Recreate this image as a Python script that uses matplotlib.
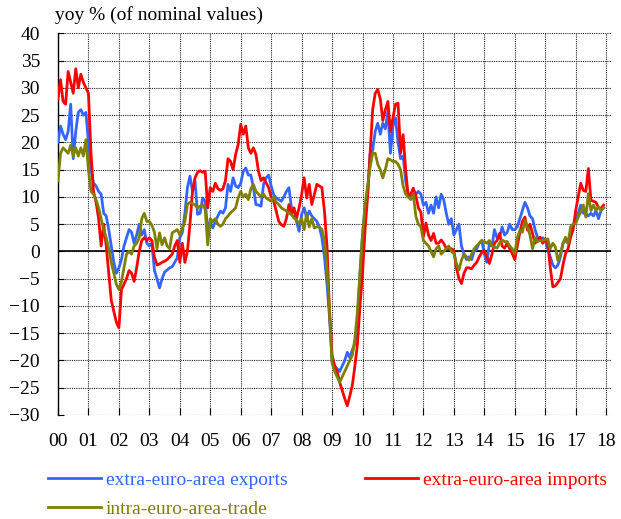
import numpy as np
import matplotlib
matplotlib.use("Agg")
import matplotlib.pyplot as plt

plt.rcParams['font.family'] = ['Liberation Serif', 'DejaVu Serif']

# monthly yoy % values, Jan 2000 - Dec 2017 (one row per year)
exports = [
    20, 23, 21.5, 20.5, 22, 27, 17, 22, 25.5, 26, 25, 25.5,
    20, 15, 12.5, 12, 11, 10.5, 7, 6.5, 4, 1, -2, -4,
    -3, -1.5, 1, 2.5, 4, 3.5, 1.5, 3, 5, 3, 4, 1.5,
    1, 1.5, -3.5, -5, -6.7, -5, -3.8, -3.4, -3, -2.8, -2, -1.2,
    2.5, 3.5, 7, 11.7, 13.8, 11, 12.9, 6.8, 7, 9.8, 9.2, 4,
    5.5, 4.3, 5.5, 6.5, 7.4, 7, 8, 12.3, 11, 13.5, 12, 11.7,
    12.5, 14.7, 15.3, 14, 14, 11.7, 8.6, 8.5, 8.3, 12.3, 13.5, 14,
    12, 10.4, 9.8, 9.5, 9.2, 10, 11, 11.7, 8, 7.4, 5.5, 3.7,
    6.8, 8, 6.1, 7.4, 6.5, 6, 5.5, 4.5, 2.5, -1, -6, -12,
    -20, -21, -21.5, -22, -21, -20, -18.5, -19.5, -18, -17, -13, -4,
    3, 8, 10.5, 18, 18.5, 22, 23.5, 21.5, 23.5, 22.5, 25.7, 18,
    23, 24.5, 20, 17, 17.5, 13, 10.5, 10, 10, 10.5, 11, 10.5,
    8.5, 9, 7, 8.5, 7, 10, 8, 10.5, 9.5, 7, 5, 6,
    3, 4, 5, 1, -0.5, -1.5, -1, -1.5, 0, 0.5, 1.5, 2,
    -0.5, -2, 1.5, 1, 4, 2.5, 2.5, 4.5, 3, 3.5, 5, 4,
    4, 4.5, 6, 7.5, 9, 8, 6.5, 6, 4, 2.5, 2, 2.5,
    2, 0.5, -1, -2.5, -3, -2.5, -1, 1.5, 2, 1.5, 3, 5,
    5.5, 7, 8.5, 7, 7, 6.5, 7, 6.5, 7.5, 6, 7.5, 8,
]

imports = [
    28, 31.5, 27.5, 27, 33, 31, 29, 33.5, 30, 32.5, 31, 30,
    29, 18, 11, 9, 6, 1, 5, 1, -4, -9, -11, -13,
    -14, -7, -6, -5, -3.5, -4, -5.5, -3, 0, 2, 2.5, 2,
    2.5, 2, -1, -2.5, -2.3, -2, -1.8, -1.5, -1, -0.5, 1, 2,
    -2, 1.5, -2, 0, 5, 11, 13.5, 14.5, 14.8, 14.5, 14.7, 8,
    11.7, 11, 12.5, 11.5, 11.2, 11.5, 13, 17, 16.5, 15, 17.8, 19.6,
    23.3, 21.5, 23, 19, 18, 19, 17.8, 14.7, 13, 13.5, 12.6, 11.7,
    10, 9.2, 7.4, 5.5, 4.9, 4.6, 6, 8.6, 6.8, 8, 6.1, 8,
    10.4, 13.5, 9.8, 12.3, 8.6, 10.4, 12.3, 12, 11.7, 7.4, 1, -11,
    -19, -21, -22, -24, -25.5, -27, -28.3, -26.5, -24.5, -21, -17, -10,
    -4, 4, 10, 18, 26, 29, 29.7, 28, 24, 26, 27.5, 22,
    24.5, 27, 27.2, 18, 21.4, 15, 10, 10.5, 11.6, 10.3, 8, 7.2,
    2.7, 5.2, 3, 2, 3.3, 1.5, 1.5, 2.1, 1.5, 0.5, 0.5, 0.5,
    0.2, -3, -5, -5.9, -4, -3, -3, -3.2, -2.5, -2, -1, -0.2,
    0.2, -1, -2.2, -0.5, 1.5, 2, 3.3, 1, 0.6, 1.5, 0.5, -0.4,
    -1.5, 1, 3.5, 5.5, 6.3, 3.9, 5, 3.3, 1.5, 2.2, 2.6, 1.5,
    2.3, 1.5, -3, -6.5, -6.3, -5.7, -5, -2.5, -0.4, 0.5, 2.6, 4,
    7.5, 10, 12.5, 11.2, 11, 15.2, 9.4, 9.2, 9, 8, 7.9, 8.5,
]

intra = [
    13, 18, 19, 18.5, 18, 19.5, 17.5, 19, 17.5, 19, 17.5, 20.5,
    15, 11, 10.5, 9.5, 8, 6, 4, 2.5, 0.5, -2, -4, -6,
    -7, -5.5, -3, -0.5, 0, -0.5, 1, 1.5, 2.5, 6, 7, 5.5,
    5.5, 4.8, 3.5, 0.5, 3.4, 1.2, 2.5, 1, 0.5, 3.4, 3.7, 4,
    3, 4.3, 5.5, 8.6, 9, 8.8, 8.5, 8, 8.3, 8.6, 7.7, 1.2,
    6, 5.5, 6, 5, 4.6, 5, 6, 6.5, 7.1, 7.5, 8, 9.8,
    11, 10, 10.5, 9.5, 11.5, 12.3, 11, 10.5, 10, 10.5, 9.8, 9.5,
    9.2, 10, 9, 8.6, 8, 7.7, 7.4, 7, 6.8, 6.1, 5.8, 5,
    6, 4, 7, 4.5, 6, 4.3, 4.5, 4.5, 4, 2, -3, -11,
    -20.5, -22, -23, -24, -23, -22, -21, -20, -19, -16, -11, -4,
    3, 8.5, 12, 15.5, 18, 18, 16, 15, 13.5, 15, 17, 16.8,
    16.5, 16.5, 16, 15, 12, 10.5, 10, 9.5, 10.5, 6.5, 5, 4.5,
    2, 1.5, 1, 0, -1, 0.5, 1, -0.5, 0, 0.5, 1, 0,
    -0.4, -2.2, -3.4, -1.6, -0.5, -1, -1.6, -0.5, 0.5, 1, 1.5, 2,
    1.8, 1.5, 2, 1, 0.8, 0.6, 1.5, 2.1, 1.8, 1.8, 1, 0.5,
    -0.4, 2.5, 3.9, 3.5, 5.7, 4.5, 3, 0.5, 2.5, 1.8, 2, 2,
    2.2, 2.3, 0.5, 1.5, 0.8, -1.7, -0.5, 1.5, 2.6, 1.5, 4.5, 5,
    5.1, 6.3, 7.2, 8.5, 6.3, 10.6, 7.5, 8.5, 7.5, 8.2, 7.5, 8,
]

years = list(range(2000, 2019))
year_labels = ['%02d' % (y % 100) for y in years]
series_names = ['extra-euro-area exports', 'extra-euro-area imports', 'intra-euro-area-trade']
colors = ['#3366ff', '#ff0000', '#808000']

t = 2000 + np.arange(len(exports)) / 12.0

fig = plt.figure(figsize=(6.21, 5.19), dpi=100)
ax = fig.add_axes([0.0934, 0.2004, 0.890, 0.7354])

ax.set_xlim(2000, 2018.15)
ax.set_ylim(-30, 40)
ax.set_yticks(np.arange(-30, 41, 5))
ax.set_xticks(years)
ax.set_xticklabels(year_labels)

ax.grid(True, color='#222222', linestyle=(0, (1, 1)), linewidth=0.8)
ax.set_axisbelow(True)
ax.axhline(0, color='black', linewidth=1.2, zorder=2)

for s in ['top', 'right', 'bottom']:
    ax.spines[s].set_visible(False)
ax.spines['left'].set_linewidth(1.0)

ax.tick_params(axis='y', direction='in', length=4, pad=13, labelsize=14)
ax.tick_params(axis='x', direction='in', length=5, pad=13, labelsize=14)

lw = 2.0
l1, = ax.plot(t, exports, color=colors[0], lw=lw, label=series_names[0], zorder=3)
l2, = ax.plot(t, imports, color=colors[1], lw=lw, label=series_names[1], zorder=4)
l3, = ax.plot(t, intra, color=colors[2], lw=lw, label=series_names[2], zorder=5)

fig.text(55 / 621, 1 - 15 / 519, 'yoy % (of nominal values)', fontsize=14,
         ha='left', va='center')

leg = fig.legend([l1, l3, l2], [series_names[0], series_names[2], series_names[1]],
                 loc='upper left', bbox_to_anchor=(48 / 621, 1 - 471 / 519),
                 ncol=2, frameon=False, fontsize=14, handlelength=2.7,
                 handletextpad=0.26, columnspacing=4.0, borderpad=0,
                 borderaxespad=0, labelspacing=0.58)
for txt, c in zip(leg.get_texts(), [colors[0], colors[2], colors[1]]):
    txt.set_color(c)

fig.savefig('out.png', dpi=100)
